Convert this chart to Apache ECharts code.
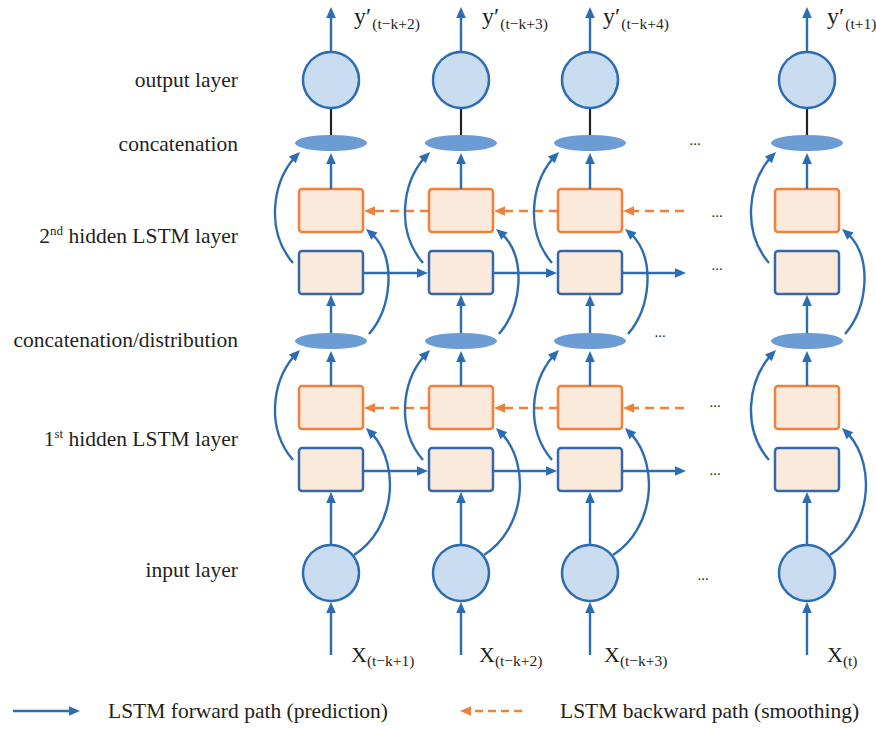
<!DOCTYPE html>
<html><head><meta charset="utf-8">
<script src="https://cdn.jsdelivr.net/npm/echarts@6/dist/echarts.min.js"></script>
<style>html,body{margin:0;padding:0;background:#fff}#c{width:876px;height:729px}</style>
</head><body><div id="c"></div>
<script>
// ---------------- data ----------------
const columnX = [331, 461, 590, 807];                       // time-step columns
const outputSubscripts = ['(t−k+2)', '(t−k+3)', '(t−k+4)', '(t+1)'];
const inputSubscripts = ['(t−k+1)', '(t−k+2)', '(t−k+3)', '(t)'];
const layerLabels = ['output layer', 'concatenation', ' hidden LSTM layer', 'concatenation/distribution', ' hidden LSTM layer', 'input layer'];
const layerOrdinal = ['', '', '2', '', '1', ''];
const layerOrdinalSup = ['', '', 'nd', '', 'st', ''];
const legendLabels = ['LSTM forward path (prediction)', 'LSTM backward path (smoothing)'];
const linkFrom = [0, 1, 2];                                  // links to the next step (last trails into "…")

// ---------------- layout / style ----------------
const ROW = {top: 7, out: 80, cat: 143, o2: 189, b2: 251, dist: 341, o1: 386, b1: 448, inp: 573, bottom: 655};
const BOX = {w: 64, h: 43}, RAD = 28, ELL = {rx: 36, ry: 8};
const labelBaseline = [87, 151, 243, 347, 446, 577];
const labelRight = 238;
const outLabelX = [354, 482, 603, 827], inLabelX = [351, 479, 604, 827];
const trailEnd = 686;
const dotPos = [[695, 144], [717, 216], [717, 269], [660, 336], [715, 406], [715, 474], [703, 579]];
const BLUE = '#2c6cb3', ORANGE = '#f0803a', BOXBLUE = '#3568a8', TXT = '#231f20';
const FAMILY = 'Liberation Serif';
const LW = 2.4;

const mctx = document.createElement('canvas').getContext('2d');
function tw(t, s) { mctx.font = s + 'px "' + FAMILY + '"'; return mctx.measureText(t).width; }
function txt(x, baseline, t, s, fill) {
  return {type: 'text', x: x, y: baseline - 0.34 * s,
    style: {text: t, fontSize: s, fontFamily: FAMILY, fill: fill || TXT, align: 'left', verticalAlign: 'middle'}};
}
function head(tip, ux, uy, len, hw, color) {
  const bx = tip[0] - ux * len, by = tip[1] - uy * len;
  return {type: 'polygon', shape: {points: [tip, [bx - uy * hw, by + ux * hw], [bx + uy * hw, by - ux * hw]]}, style: {fill: color}};
}
function arrow(ch, a, b, color, dash) {
  const dx = b[0] - a[0], dy = b[1] - a[1], d = Math.hypot(dx, dy), ux = dx / d, uy = dy / d, hl = 11;
  ch.push({type: 'line', shape: {x1: a[0], y1: a[1], x2: b[0] - ux * (hl - 2), y2: b[1] - uy * (hl - 2)},
    style: {stroke: color, lineWidth: LW, lineDash: dash || null, fill: null}});
  ch.push(head(b, ux, uy, hl, 4.8, color));
}
const lerp = (a, b, t) => [a[0] + (b[0] - a[0]) * t, a[1] + (b[1] - a[1]) * t];
function bez(p0, p1, p2, p3, t) {
  const a = lerp(p0, p1, t), b = lerp(p1, p2, t), c = lerp(p2, p3, t), d = lerp(a, b, t), e = lerp(b, c, t);
  return {pt: lerp(d, e, t), q1: a, q2: d};
}
function curveArrow(ch, p0, p1, p2, p3, color) {
  let t = 1, s;
  while (t > 0.5) { t -= 0.004; s = bez(p0, p1, p2, p3, t); if (Math.hypot(s.pt[0] - p3[0], s.pt[1] - p3[1]) >= 9) break; }
  ch.push({type: 'bezierCurve', shape: {x1: p0[0], y1: p0[1], cpx1: s.q1[0], cpy1: s.q1[1], cpx2: s.q2[0], cpy2: s.q2[1], x2: s.pt[0], y2: s.pt[1]},
    style: {stroke: color, lineWidth: LW, fill: null}});
  const dx = p3[0] - s.pt[0], dy = p3[1] - s.pt[1], d = Math.hypot(dx, dy);
  ch.push(head(p3, dx / d, dy / d, 11, 4.8, color));
}

function renderColumn(params, api) {
  const i = params.dataIndex, c = api.value(0);
  const P = (dx, y) => api.coord([c + dx, y]);
  const k = api.size([1, 1]);
  const ch = [];
  const circle = (y) => ch.push({type: 'circle', shape: {cx: P(0, y)[0], cy: P(0, y)[1], r: RAD * k[0]}, style: {fill: '#c9dcf0', stroke: BLUE, lineWidth: 2.5}});
  const ellipse = (y) => { const p = P(0, y); ch.push({type: 'circle', x: p[0], y: p[1], scaleY: ELL.ry / ELL.rx, shape: {cx: 0, cy: 0, r: ELL.rx * k[0]}, style: {fill: '#6c9cd4', stroke: null}}); };
  const box = (top, stroke) => { const p = P(-BOX.w / 2, top); ch.push({type: 'rect', shape: {x: p[0], y: p[1], width: BOX.w * k[0], height: BOX.h * k[1], r: 3}, style: {fill: '#fbe9dc', stroke: stroke, lineWidth: 2.5}}); };

  // vertical flow
  arrow(ch, P(0, ROW.bottom), P(0, ROW.inp + RAD + 1), BLUE);
  circle(ROW.inp);
  arrow(ch, P(0, ROW.inp - RAD), P(0, ROW.b1 + BOX.h + 1), BLUE);
  box(ROW.b1, BOXBLUE);
  box(ROW.o1, ORANGE);
  arrow(ch, P(0, ROW.o1), P(0, ROW.dist + ELL.ry + 2), BLUE);
  ellipse(ROW.dist);
  arrow(ch, P(0, ROW.dist - ELL.ry), P(0, ROW.b2 + BOX.h + 1), BLUE);
  box(ROW.b2, BOXBLUE);
  box(ROW.o2, ORANGE);
  arrow(ch, P(0, ROW.o2), P(0, ROW.cat + ELL.ry + 2), BLUE);
  ellipse(ROW.cat);
  const l1 = P(0, ROW.cat - ELL.ry), l2 = P(0, ROW.out + RAD);
  ch.push({type: 'line', shape: {x1: l1[0], y1: l1[1], x2: l2[0], y2: l2[1]}, style: {stroke: '#222', lineWidth: 2.2}});
  circle(ROW.out);
  arrow(ch, P(0, ROW.out - RAD), P(0, ROW.top), BLUE);

  // curved arrows: forward state -> concatenation (left), lower layer -> backward box (right)
  curveArrow(ch, P(-38, ROW.b2 + 12), P(-68, ROW.b2 - 23), P(-57, ROW.cat + 32), P(-31, ROW.cat + 9), BLUE);
  curveArrow(ch, P(-38, ROW.b1 + 12), P(-68, ROW.b1 - 23), P(-57, ROW.dist + 32), P(-31, ROW.dist + 9), BLUE);
  curveArrow(ch, P(38, ROW.dist - 7), P(63, ROW.dist - 36), P(66, ROW.o2 + BOX.h + 18), P(35, ROW.o2 + BOX.h - 3), BLUE);
  curveArrow(ch, P(23, ROW.inp - 18), P(66, ROW.inp - 45), P(71, ROW.o1 + BOX.h + 29), P(35, ROW.o1 + BOX.h - 1), BLUE);

  // labels
  const ox = api.coord([outLabelX[i], 0])[0];
  const yw = tw('y′', 24);
  ch.push(txt(ox, 24, 'y′', 24));
  ch.push(txt(ox + yw + 1, 28.5, outputSubscripts[i], 15.5));
  const ix = api.coord([inLabelX[i], 0])[0];
  const xw = tw('X', 22);
  ch.push(txt(ix, 662, 'X', 22));
  ch.push(txt(ix + xw, 666, inputSubscripts[i], 15.5));
  return {type: 'group', children: ch};
}

function renderLink(params, api) {
  const a = api.value(0), b = api.value(1), trailing = api.value(2) === 1;
  const ch = [];
  const P = (x, y) => api.coord([x, y]);
  const fEnd = trailing ? b : b - BOX.w / 2 - 1;
  arrow(ch, P(a + BOX.w / 2 + 1, ROW.b2 + 22), P(fEnd, ROW.b2 + 22), BLUE);
  arrow(ch, P(a + BOX.w / 2 + 1, ROW.b1 + 23), P(fEnd, ROW.b1 + 23), BLUE);
  const bStart = trailing ? b - 2 : b - BOX.w / 2;
  arrow(ch, P(bStart, ROW.o2 + 22), P(a + BOX.w / 2 + 1, ROW.o2 + 22), ORANGE, [9, 6]);
  arrow(ch, P(bStart, ROW.o1 + 22), P(a + BOX.w / 2 + 1, ROW.o1 + 22), ORANGE, [9, 6]);
  return {type: 'group', children: ch};
}

function renderLabel(params, api) {
  const i = params.dataIndex, s = 21.5, bl = api.coord([0, labelBaseline[i]])[1];
  const right = api.coord([labelRight, 0])[0];
  const ch = [];
  const wMain = tw(layerLabels[i], s);
  let x = right - wMain;
  ch.push(txt(x, bl, layerLabels[i], s));
  if (layerOrdinal[i]) {
    const wSup = tw(layerOrdinalSup[i], 13);
    x -= wSup;
    ch.push(txt(x, bl - 8, layerOrdinalSup[i], 13));
    x -= tw(layerOrdinal[i], s);
    ch.push(txt(x, bl, layerOrdinal[i], s));
  }
  return {type: 'group', children: ch};
}

function renderDots(params, api) {
  const p = api.coord([api.value(0), api.value(1)]);
  return {type: 'text', x: p[0], y: p[1] - 4, style: {text: '...', fontSize: 15, fontFamily: FAMILY, fill: TXT, align: 'center', verticalAlign: 'middle'}};
}

function renderLegend(params, api) {
  const i = params.dataIndex, ch = [];
  const y = 711;
  if (i === 0) {
    arrow(ch, api.coord([13, y]), api.coord([80, y]), BLUE);
    ch.push(txt(api.coord([108, 0])[0], 718, legendLabels[0], 21.5));
  } else {
    arrow(ch, api.coord([522, y]), api.coord([460, y]), ORANGE, [8, 5]);
    ch.push(txt(api.coord([560, 0])[0], 718, legendLabels[1], 21.5));
  }
  return {type: 'group', children: ch};
}

const chart = echarts.init(document.getElementById('c'), null, {renderer: 'svg'});
chart.setOption({
  animation: false,
  backgroundColor: '#ffffff',
  grid: {left: 0, right: 0, top: 0, bottom: 0},
  xAxis: {type: 'value', min: 0, max: 876, show: false},
  yAxis: {type: 'value', min: 0, max: 729, inverse: true, show: false},
  series: [
    {type: 'custom', name: 'links', clip: false, silent: true, renderItem: renderLink,
      data: linkFrom.map(i => { const trailing = i + 1 >= columnX.length - 1; return [columnX[i], trailing ? trailEnd : columnX[i + 1], trailing ? 1 : 0]; })},
    {type: 'custom', name: 'columns', clip: false, silent: true, renderItem: renderColumn, data: columnX.map(x => [x, 0])},
    {type: 'custom', name: 'labels', clip: false, silent: true, renderItem: renderLabel, data: layerLabels.map((l, i) => [0, i])},
    {type: 'custom', name: 'dots', clip: false, silent: true, renderItem: renderDots, data: dotPos},
    {type: 'custom', name: 'legend', clip: false, silent: true, renderItem: renderLegend, data: legendLabels.map((l, i) => [0, i])}
  ]
});
</script></body></html>
